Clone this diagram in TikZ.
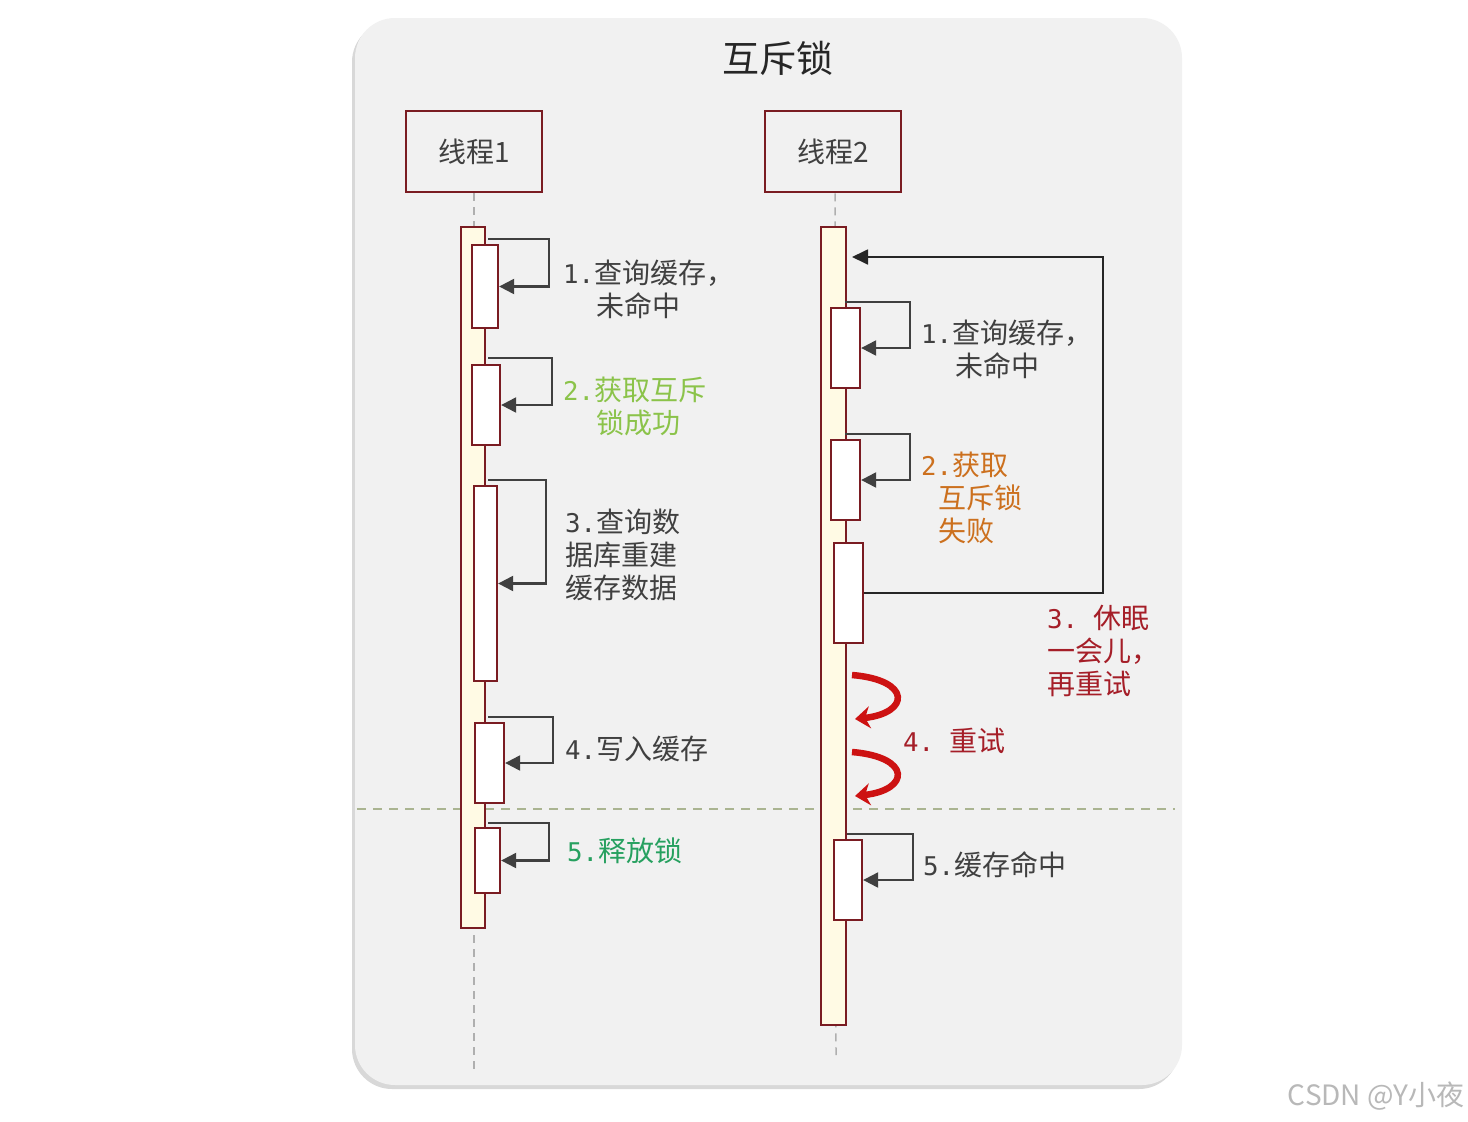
\documentclass[tikz,border=0pt]{standalone}
\usepackage{fontspec}
\setmainfont{Noto Sans CJK SC}
\newfontfamily\mn[Scale=0.92]{DejaVu Sans Mono}
\usetikzlibrary{arrows.meta,shadows,calc}
\definecolor{bg}{RGB}{241,241,241}
\definecolor{dred}{RGB}{122,28,34}
\definecolor{barfill}{RGB}{255,250,228}
\definecolor{txtgray}{RGB}{64,64,64}
\definecolor{agray}{RGB}{64,64,64}
\definecolor{lgreen}{RGB}{139,195,74}
\definecolor{dgreen}{RGB}{38,160,95}
\definecolor{orng}{RGB}{204,112,30}
\definecolor{tred}{RGB}{165,30,40}
\definecolor{rarrow}{RGB}{205,18,18}
\definecolor{sepline}{RGB}{170,180,145}
\definecolor{lifeline}{RGB}{175,175,175}
\begin{document}
\begin{tikzpicture}[x=1pt,y=-1pt,
  panel/.style={fill=bg, rounded corners=40pt, minimum width=827pt, minimum height=1067pt, inner sep=0,
    drop shadow={shadow xshift=-3pt, shadow yshift=-4pt, opacity=0.25, fill=black!60}},
  titlefont/.style={font=\fontsize{37}{40}\selectfont, text=black!85, inner sep=0},
  thread/.style={draw=dred, line width=2.5pt, fill=bg, minimum width=136pt, minimum height=81pt, inner sep=0,
    font=\fontsize{28}{33}\selectfont, text=txtgray},
  actbar/.style={draw=dred, line width=2.3pt, fill=barfill, inner sep=0},
  subbox/.style={draw=dred, line width=2.3pt, fill=white, inner sep=0},
  selfarr/.style={draw=agray, line width=2.2pt, -{Triangle[length=15pt,width=15pt]}},
  looparr/.style={draw=black!85, line width=1.8pt, -{Triangle[length=16pt,width=15pt]}},
  retry/.style={draw=rarrow, line width=6.5pt, -{Stealth[length=15pt,width=22pt]}},
  lbl/.style={font=\fontsize{28}{33}\selectfont, text=txtgray, inner sep=0, anchor=west},
  lifel/.style={draw=lifeline, line width=1.5pt, dash pattern=on 8pt off 6pt},
  sep/.style={draw=sepline, line width=1.5pt, dash pattern=on 9pt off 7pt}
]
\useasboundingbox (0,0) rectangle (1468,1122);
\fill[white] (0,0) rectangle (1468,1122);
\node[panel] (panel) at (768.5,551.5) {};
\node[titlefont] (title) at (778,58) {互斥锁};

% threads
\node[thread] (t1) at (474,151.5) {线程1};
\node[thread] (t2) at (833,151.5) {线程2};
\coordinate (end1) at (474,1075);
\coordinate (end2) at (836,1055);
\draw[lifel] (t1.south) -- (end1);
\draw[lifel] ([xshift=2pt]t2.south) -- (end2);

% separator
\coordinate (sepL) at (357,809);
\coordinate (sepR) at (1175,809);
\draw[sep] (sepL) -- (sepR);

% thread 1 bars
\node[actbar, minimum width=24pt, minimum height=701pt] (bar1) at (473,577.5) {};
\node[subbox, minimum width=26pt, minimum height=83pt] (b11) at (485,286.5) {};
\node[subbox, minimum width=28pt, minimum height=80pt] (b12) at (486,405) {};
\node[subbox, minimum width=23pt, minimum height=195pt] (b13) at (485.5,583.5) {};
\node[subbox, minimum width=29pt, minimum height=80pt] (b14) at (489.5,763) {};
\node[subbox, minimum width=25pt, minimum height=65pt] (b15) at (487.5,860.5) {};

% thread 2 bars
\node[actbar, minimum width=25pt, minimum height=798pt] (bar2) at (833.5,626) {};
\node[subbox, minimum width=29pt, minimum height=80pt] (b21) at (845.5,348) {};
\node[subbox, minimum width=29pt, minimum height=80pt] (b22) at (845.5,480) {};
\node[subbox, minimum width=29pt, minimum height=100pt] (b23) at (848.5,593) {};
\node[subbox, minimum width=28pt, minimum height=80pt] (b25) at (848,880) {};

% self arrows thread 1
\draw[selfarr] ($(b11.north -| bar1.east)+(2,-5)$) -- ++(61,0) |- (b11.east);
\draw[selfarr] ($(b12.north -| bar1.east)+(2,-6)$) -- ++(64,0) |- (b12.east);
\draw[selfarr] ($(b13.north -| bar1.east)+(2,-5)$) -- ++(58,0) |- (b13.east);
\draw[selfarr] ($(b14.north -| bar1.east)+(2,-5)$) -- ++(65,0) |- (b14.east);
\draw[selfarr] ($(b15.north -| bar1.east)+(2,-4)$) -- ++(61,0) |- (b15.east);

% self arrows thread 2
\draw[selfarr] ($(b21.north -| bar2.east)+(-2,-5)$) -- ++(65,0) |- (b21.east);
\draw[selfarr] ($(b22.north -| bar2.east)+(-2,-5)$) -- ++(65,0) |- (b22.east);
\draw[selfarr] ($(b25.north -| bar2.east)+(0,-5)$) -- ++(66,0) |- (b25.east);

% loop back arrow
\coordinate (loopend) at (852,257);
\draw[looparr] (b23.east) -- ++(239,0) |- (loopend);

% retry arrows
\coordinate (r1s) at (852,675);
\coordinate (r1e) at (855,719);
\coordinate (r2s) at (852,752);
\coordinate (r2e) at (855,796);
\draw[retry] (r1s) .. controls (912,680) and (910,713) .. (r1e);
\draw[retry] (r2s) .. controls (912,757) and (910,790) .. (r2e);

% labels thread 1
\node[lbl, align=left] (l11) at (563,289) {{\mn 1.}查询缓存，\\\hspace*{33pt}未命中};
\node[lbl, align=left, text=lgreen] (l12) at (563,406) {{\mn 2.}获取互斥\\\hspace*{33pt}锁成功};
\node[lbl, align=left] (l13) at (565,555) {{\mn 3.}查询数\\据库重建\\缓存数据};
\node[lbl] (l14) at (565,749) {{\mn 4.}写入缓存};
\node[lbl, text=dgreen] (l15) at (567,851) {{\mn 5.}释放锁};

% labels thread 2
\node[lbl, align=left] (l21) at (921,349.5) {{\mn 1.}查询缓存，\\\hspace*{34pt}未命中};
\node[lbl, align=left, text=orng] (l22) at (921,498) {{\mn 2.}获取\\\hspace*{17pt}互斥锁\\\hspace*{17pt}失败};
\node[lbl, align=left, text=tred] (l23) at (1047,651) {{\mn 3.\ }休眠\\一会儿，\\再重试};
\node[lbl, text=tred] (l24) at (903,741) {{\mn 4.\ }重试};
\node[lbl] (l25) at (923,865) {{\mn 5.}缓存命中};

% watermark
\node[font=\fontsize{28}{30}\selectfont, text=black!28, anchor=east, inner sep=0] (wm) at (1465,1096) {CSDN @Y小夜};
\end{tikzpicture}
\end{document}
